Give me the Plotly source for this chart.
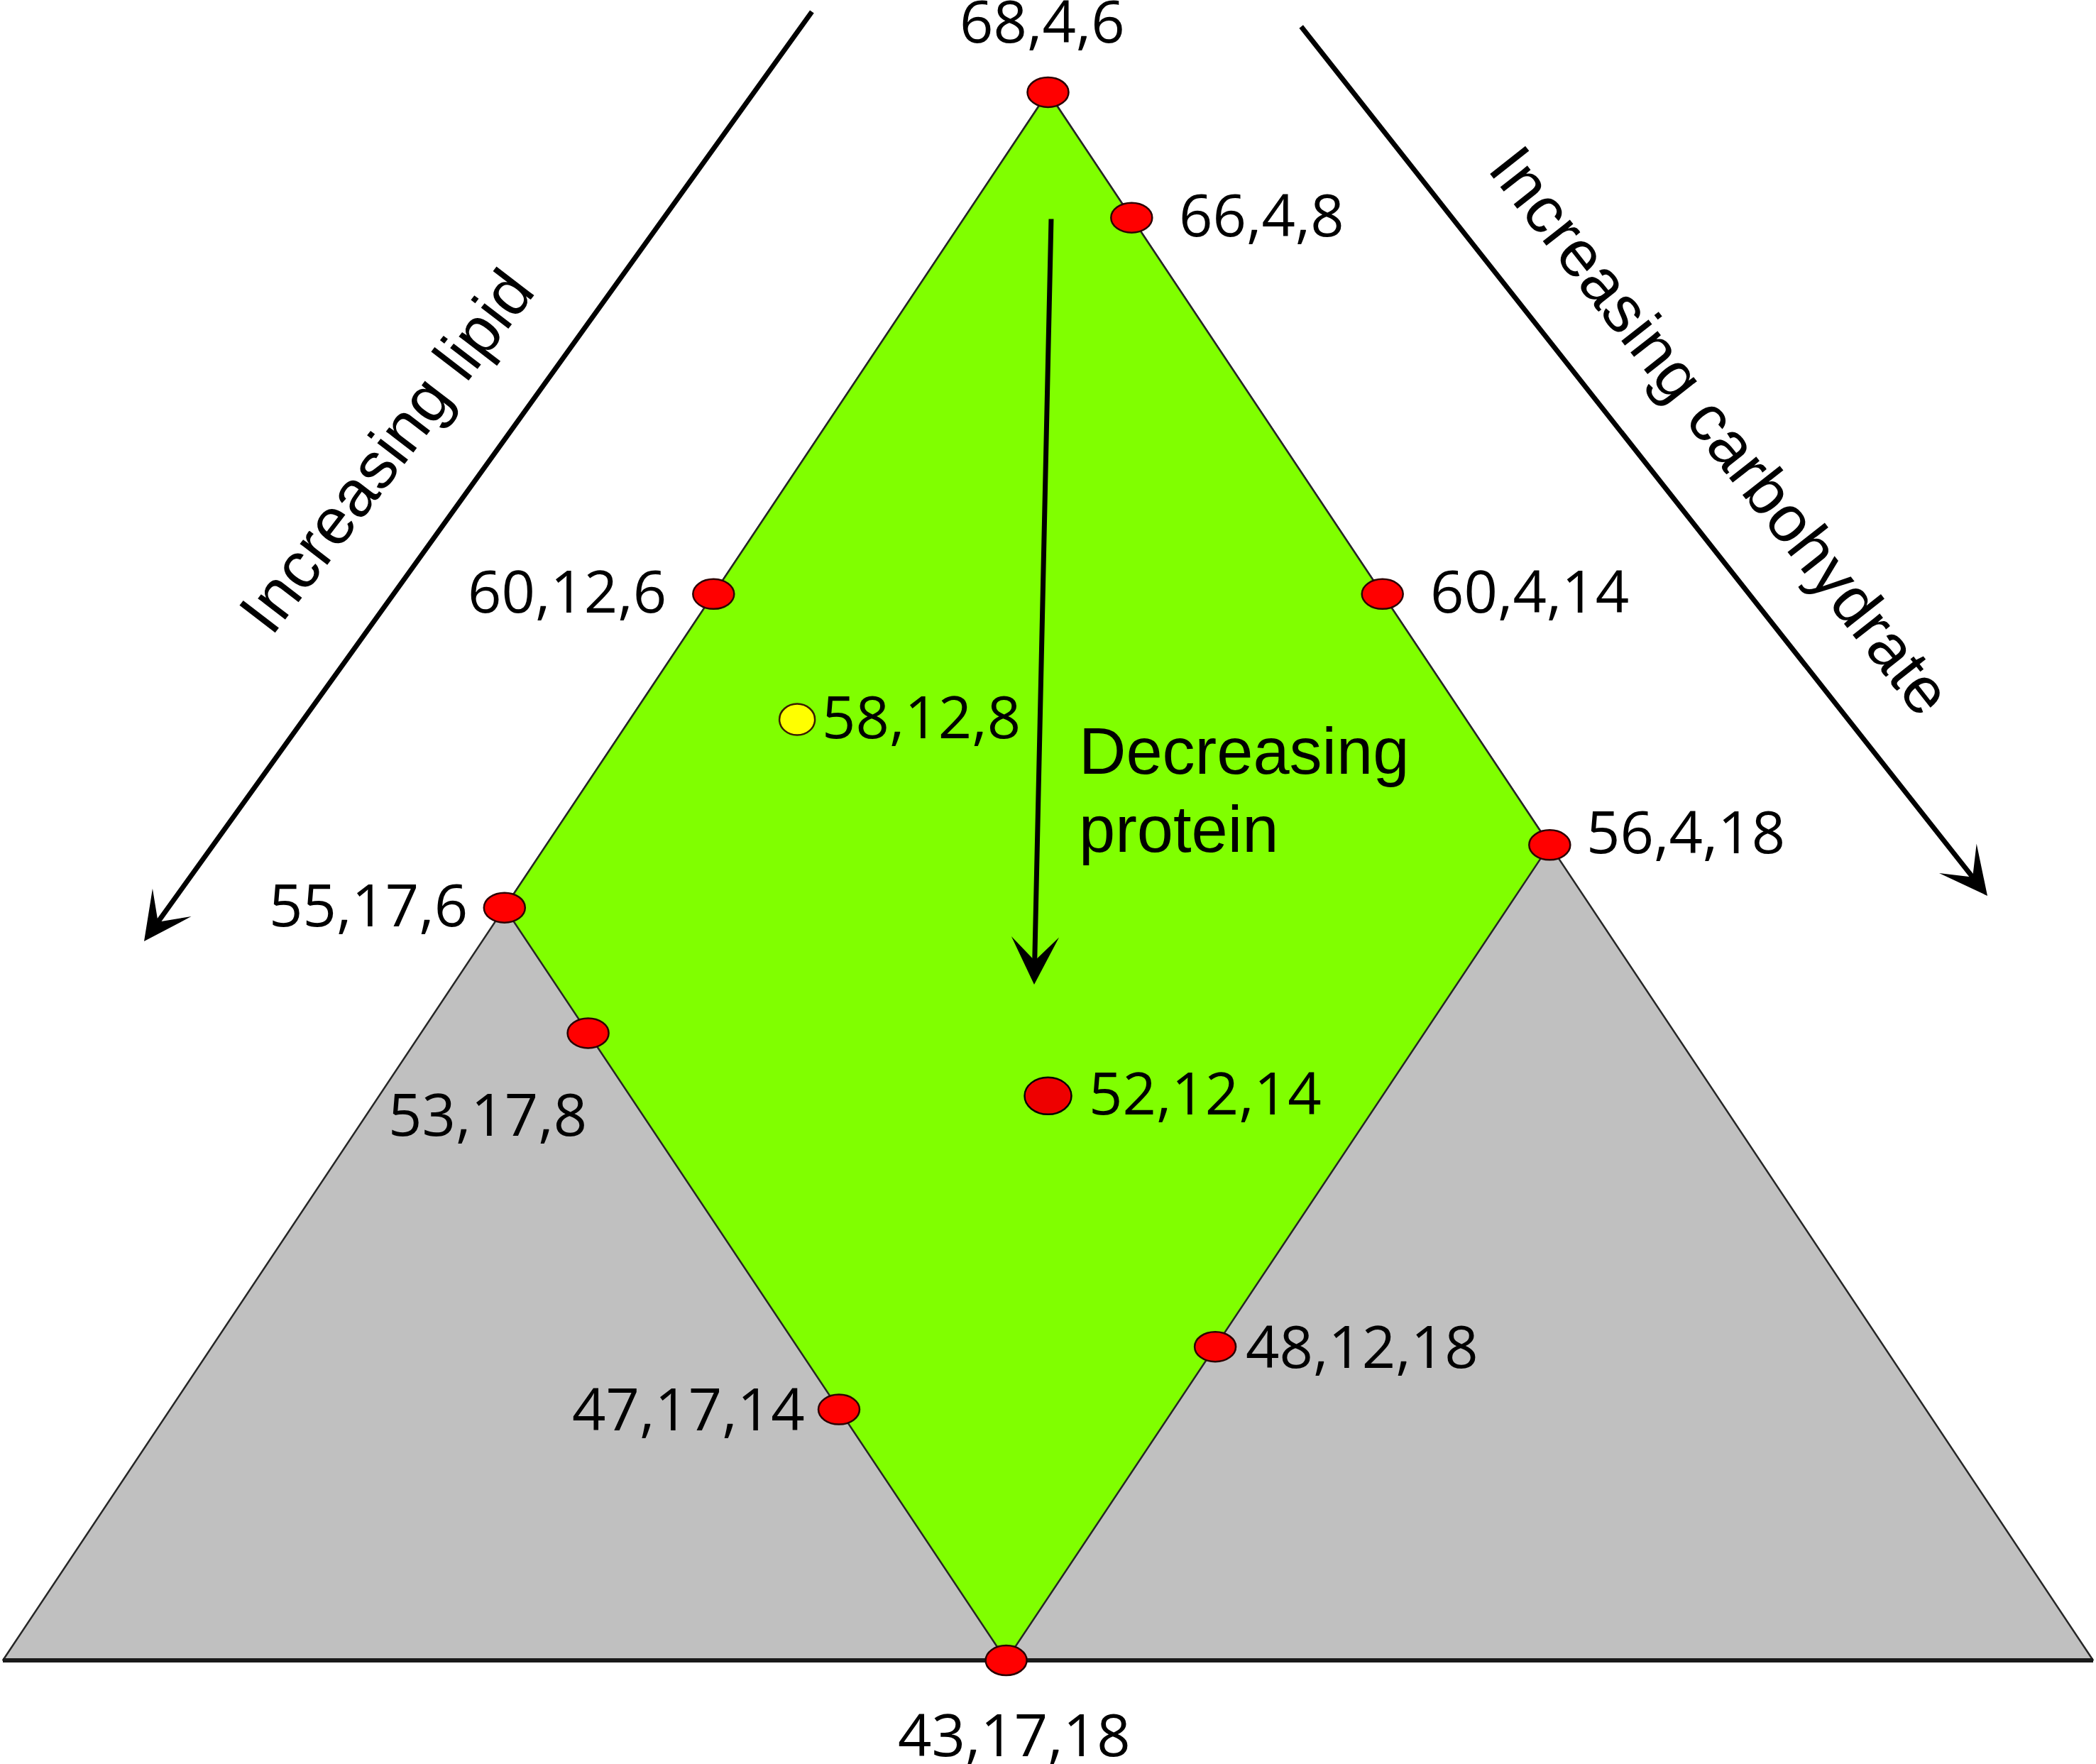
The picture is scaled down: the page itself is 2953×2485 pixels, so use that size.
import plotly.graph_objects as go

W, H = 2953, 2485

# ---- data (protein, lipid, carbohydrate; all mixtures sum to TOTAL) ----
TOTAL = 78
P_MIN, L_MIN, C_MIN = 43, 4, 6

protein = [68, 66, 60, 60, 58, 56, 55, 53, 52, 48, 47, 43]
lipid   = [4,  4,  12, 4,  12, 4,  17, 17, 12, 12, 17, 17]
carb    = [6,  8,  6,  14, 8,  18, 6,  8,  14, 18, 14, 18]
point_kind = ["red", "red", "red", "red", "yellow", "red", "red", "red",
              "big", "red", "red", "red"]

# feasible (green) region corners
rhomb_protein = [68, 55, 43, 56]
rhomb_lipid   = [4, 17, 17, 4]
rhomb_carb    = [6, 6, 18, 18]

# ---- styles ----
LABEL_DY = 6
label_pos = [  # (xanchor, xshift px, yshift px)
    ("center", -8, 96),
    ("left", 65, 0),
    ("right", -64, 0),
    ("left", 65, 0),
    ("left", 33, 0),
    ("left", 50, 15),
    ("right", -50, 0),
    ("right", 0, -118),
    ("left", 55, 0),
    ("left", 41, -3),
    ("right", -46, -3),
    ("center", 11, -108),
]
marker_style = {
    "red": dict(w=58, h=42, fill="#FF0000", line="#2a0000"),
    "big": dict(w=66, h=52, fill="#EE0000", line="#000000"),
    "yellow": dict(w=50, h=44, fill="#FFFF00", line="#3a1a00"),
}
GRAY = "#C0C0C0"
GREEN = "#80FF00"
LABEL_FONT = dict(family="Open Sans", size=83, color="black")
TEXT_FONT = dict(family="Liberation Sans, Arial", size=92, color="black")


def proj(p, l, c):
    """Cartesian projection of a (protein, lipid, carb) mixture."""
    return c - l, p


# big triangle corners from domain limits
tri = [
    (TOTAL - L_MIN - C_MIN, L_MIN, C_MIN),
    (P_MIN, TOTAL - P_MIN - C_MIN, C_MIN),
    (P_MIN, L_MIN, TOTAL - P_MIN - L_MIN),
]
tri_xy = [proj(*v) for v in tri]
rh_xy = [proj(p, l, c) for p, l, c in zip(rhomb_protein, rhomb_lipid, rhomb_carb)]
pts_xy = [proj(p, l, c) for p, l, c in zip(protein, lipid, carb)]

fig = go.Figure()

fig.add_trace(go.Scatter(
    x=[v[0] for v in tri_xy] + [tri_xy[0][0]],
    y=[v[1] for v in tri_xy] + [tri_xy[0][1]],
    mode="lines", fill="toself", fillcolor=GRAY,
    line=dict(color="#262626", width=2.5), hoverinfo="skip"))
# thick base line
fig.add_trace(go.Scatter(
    x=[tri_xy[1][0], tri_xy[2][0]], y=[tri_xy[1][1], tri_xy[2][1]],
    mode="lines", line=dict(color="#1a1a1a", width=6), hoverinfo="skip"))
fig.add_trace(go.Scatter(
    x=[v[0] for v in rh_xy] + [rh_xy[0][0]],
    y=[v[1] for v in rh_xy] + [rh_xy[0][1]],
    mode="lines", fill="toself", fillcolor=GREEN,
    line=dict(color="#262626", width=2.5), hoverinfo="skip"))
# points (hover only, drawn as ellipses below)
fig.add_trace(go.Scatter(
    x=[v[0] for v in pts_xy], y=[v[1] for v in pts_xy], mode="markers",
    marker=dict(size=1, opacity=0),
    text=[f"{p},{l},{c}" for p, l, c in zip(protein, lipid, carb)],
    hoverinfo="text"))

shapes = []
annotations = []
for (x, y), kind, (xa, xs, ys), p, l, c in zip(pts_xy, point_kind, label_pos,
                                              protein, lipid, carb):
    st = marker_style[kind]
    shapes.append(dict(
        type="circle", xref="x", yref="y", xsizemode="pixel", ysizemode="pixel",
        xanchor=x, yanchor=y, x0=-st["w"] / 2, x1=st["w"] / 2,
        y0=-st["h"] / 2, y1=st["h"] / 2, fillcolor=st["fill"],
        line=dict(color=st["line"], width=2.5), layer="above"))
    annotations.append(dict(
        x=x, y=y, xref="x", yref="y", text=f"{p},{l},{c}", showarrow=False,
        xanchor=xa, yanchor="middle", xshift=xs, yshift=ys + LABEL_DY,
        font=LABEL_FONT))


def px(x, y):
    return x / W, 1 - y / H


def arrow(tail, tip, width=7):
    tx, ty = px(*tip)
    return dict(x=tx, y=ty, xref="paper", yref="paper", text="",
                showarrow=True, ax=tail[0] - tip[0], ay=tail[1] - tip[1],
                axref="pixel", ayref="pixel", arrowhead=3, arrowsize=1.6,
                arrowwidth=width, arrowcolor="black", standoff=0)


annotations += [
    arrow((1145, 15), (203, 1326)),
    arrow((1832, 36), (2800, 1262)),
    arrow((1481, 307), (1457, 1387)),
]

for txt, (cx, cy), ang in [("Increasing lipid", (544, 635), -52.5),
                           ("Increasing carbohydrate", (2424, 606), 51.8)]:
    ax_, ay_ = px(cx, cy)
    annotations.append(dict(x=ax_, y=ay_, xref="paper", yref="paper", text=txt,
                            showarrow=False, textangle=ang, xanchor="center",
                            yanchor="middle", font=TEXT_FONT))

for txt, cy in [("Decreasing", 1058), ("protein", 1168)]:
    ax_, ay_ = px(1518, cy)
    annotations.append(dict(x=ax_, y=ay_, xref="paper", yref="paper", text=txt,
                            showarrow=False, xanchor="left", yanchor="middle",
                            font=TEXT_FONT))

fig.update_layout(
    width=W, height=H, autosize=False,
    margin=dict(l=0, r=0, t=0, b=0, pad=0),
    paper_bgcolor="white", plot_bgcolor="white",
    showlegend=False, shapes=shapes, annotations=annotations,
    xaxis=dict(range=[-23.068, 27.068], visible=False, fixedrange=True),
    yaxis=dict(range=[41.348, 69.471], visible=False, fixedrange=True),
)

fig.write_html(
    "out.html",
    config={"displayModeBar": False},
    post_script="document.body.style.margin='0';"
                "document.body.style.overflow='hidden';"
                "document.documentElement.style.overflow='hidden';",
)
